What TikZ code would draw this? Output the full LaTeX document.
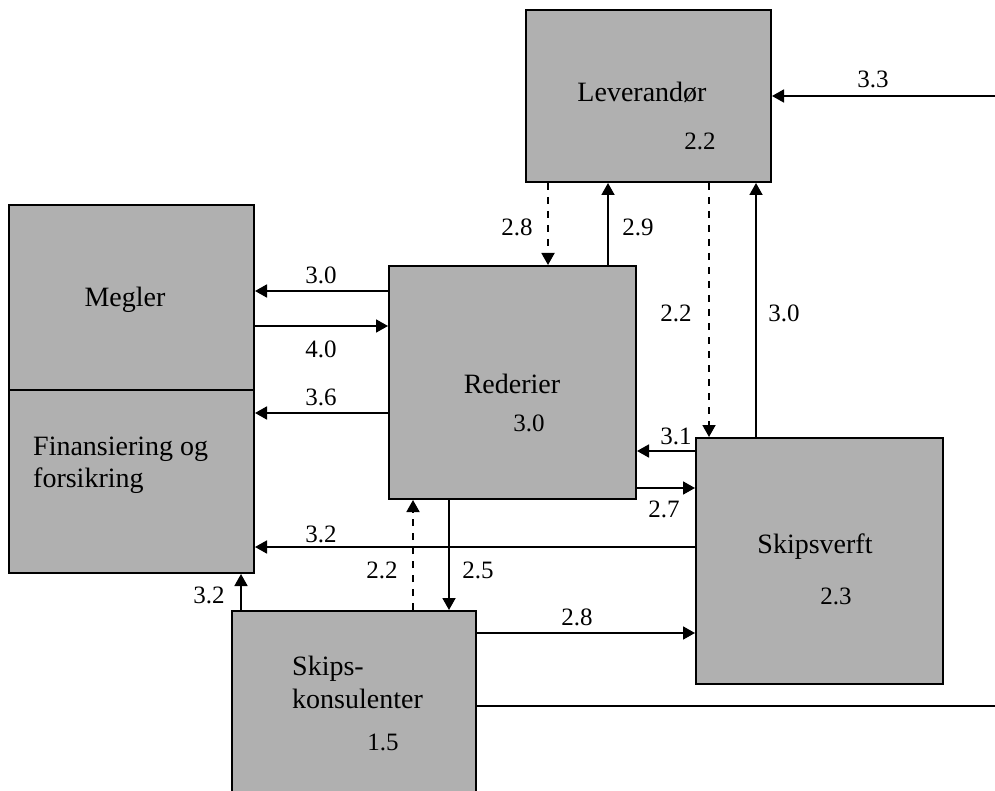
\documentclass[tikz,border=0pt]{standalone}
\usepackage{fontspec}
\setmainfont{Liberation Serif}
\usetikzlibrary{arrows.meta}
\definecolor{boxgray}{rgb}{0.69,0.69,0.69}
\tikzset{
  unit/.style={draw=black, line width=2pt, fill=boxgray, anchor=north west, inner sep=0pt},
  flow/.style={line width=1.8pt, -{Triangle[length=12pt, width=13pt]}},
  dflow/.style={flow, dash pattern=on 7pt off 7pt},
  lbl/.style={anchor=base, inner sep=0pt, font=\fontsize{25}{28}\selectfont},
  txt/.style={anchor=base, inner sep=0pt, font=\fontsize{28}{32}\selectfont},
}

\begin{document}
\begin{tikzpicture}[line cap=butt,line join=miter,x=1pt,y=-1pt]
\clip (0,0) rectangle (995,791);
% boxes
\node[unit, minimum width=245, minimum height=172] (lev) at (525,9) {};
\node[unit, minimum width=245, minimum height=185] (megler) at (8,204) {};
\node[unit, minimum width=245, minimum height=183] (finans) at (8,389) {};
\node[unit, minimum width=247, minimum height=233] (rederi) at (388,265) {};
\node[unit, minimum width=247, minimum height=246] (verft) at (695,437) {};
\node[unit, minimum width=244, minimum height=200] (konsul) at (231,610) {};
\coordinate (in33) at (995,96);
\coordinate (out1) at (995,706);
% box texts
\node[txt] (tlev) at (642,102) {Leverandør};
\node[lbl] (nlev) at (700,150) {2.2};
\node[txt] (tmegler) at (125,307) {Megler};
\node[txt, anchor=base west] (tfin1) at (33,455) {Finansiering og};
\node[txt, anchor=base west] (tfin2) at (33,487) {forsikring};
\node[txt] (trederi) at (512,393) {Rederier};
\node[lbl] (nrederi) at (529,431) {3.0};
\node[txt] (tverft) at (815,553) {Skipsverft};
\node[lbl] (nverft) at (836,604) {2.3};
\node[txt, anchor=base west] (tkons1) at (292,675) {Skips-};
\node[txt, anchor=base west] (tkons2) at (292,708) {konsulenter};
\node[lbl] (nkons) at (383,750) {1.5};
% flows
\draw[flow] (in33) -- (lev.east |- in33);
\draw[dflow] (lev.south -| 548,0) -- (rederi.north -| 548,0);
\draw[flow] (rederi.north -| 608,0) -- (lev.south -| 608,0);
\draw[dflow] (lev.south -| 709,0) -- (verft.north -| 709,0);
\draw[flow] (verft.north -| 756,0) -- (lev.south -| 756,0);
\draw[flow] (rederi.west |- 0,291) -- (megler.east |- 0,291);
\draw[flow] (megler.east |- 0,326) -- (rederi.west |- 0,326);
\draw[flow] (rederi.west |- 0,413) -- (finans.east |- 0,413);
\draw[flow] (verft.west |- 0,451) -- (rederi.east |- 0,451);
\draw[flow] (rederi.east |- 0,488) -- (verft.west |- 0,488);
\draw[flow] (verft.west |- 0,547) -- (finans.east |- 0,547);
\draw[dflow] (konsul.north -| 413,0) -- (rederi.south -| 413,0);
\draw[flow] (rederi.south -| 449,0) -- (konsul.north -| 449,0);
\draw[flow] (konsul.north -| 241,0) -- (finans.south -| 241,0);
\draw[flow] (konsul.east |- 0,633) -- (verft.west |- 0,633);
\draw[line width=1.8pt] (konsul.east |- out1) -- (out1);
% flow labels
\node[lbl] (l33) at (873,88) {3.3};
\node[lbl] (l28a) at (517,236) {2.8};
\node[lbl] (l29) at (638,236) {2.9};
\node[lbl] (l22a) at (676,322) {2.2};
\node[lbl] (l30a) at (784,322) {3.0};
\node[lbl] (l30b) at (321,284) {3.0};
\node[lbl] (l40) at (321,357) {4.0};
\node[lbl] (l36) at (321,405) {3.6};
\node[lbl] (l31) at (676,444) {3.1};
\node[lbl] (l27) at (664,517) {2.7};
\node[lbl] (l32a) at (321,542) {3.2};
\node[lbl] (l22b) at (382,578) {2.2};
\node[lbl] (l25) at (478,578) {2.5};
\node[lbl] (l32b) at (209,603) {3.2};
\node[lbl] (l28b) at (577,625) {2.8};
\end{tikzpicture}
\end{document}
